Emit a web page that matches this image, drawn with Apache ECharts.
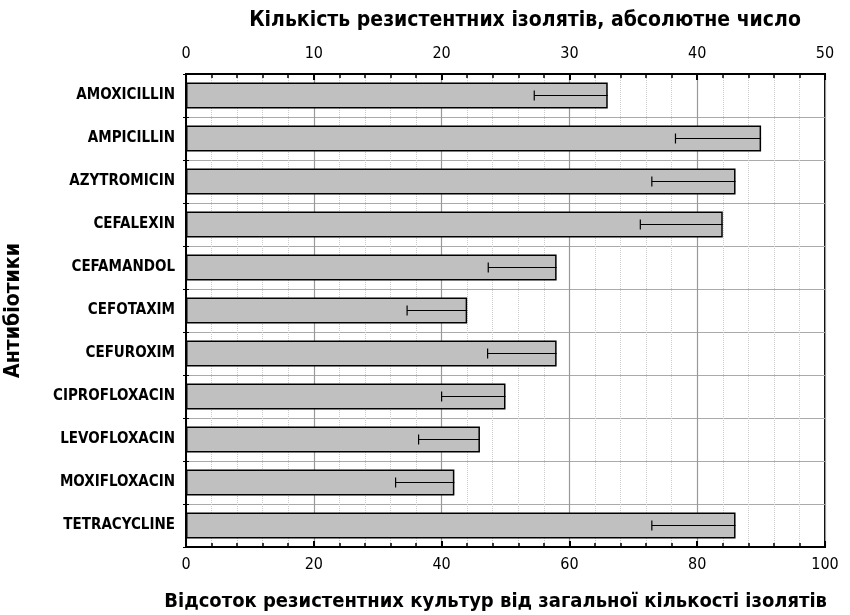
<!DOCTYPE html>
<html>
<head>
<meta charset="utf-8">
<script src="https://cdn.jsdelivr.net/npm/echarts@6/dist/echarts.min.js"></script>
<style>
  html, body { margin: 0; padding: 0; background: #fff; }
  #chart { width: 850px; height: 615px; }
</style>
</head>
<body>
<div id="chart"></div>
<script>
// antibiotics, percent resistant, lower error bound (percent)
const antibiotics = [
  "AMOXICILLIN", "AMPICILLIN", "AZYTROMICIN", "CEFALEXIN", "CEFAMANDOL",
  "CEFOTAXIM", "CEFUROXIM", "CIPROFLOXACIN", "LEVOFLOXACIN", "MOXIFLOXACIN",
  "TETRACYCLINE"
];
const percentResistant = [66, 90, 86, 84, 58, 44, 58, 50, 46, 42, 86];
const lowerBound = [54.5, 76.6, 72.9, 71.1, 47.3, 34.6, 47.2, 40.0, 36.4, 32.8, 72.9];

const FONT = "'Liberation Sans Narrow', 'DejaVu Sans Condensed', 'Liberation Sans', sans-serif";

const errData = antibiotics.map((name, i) => [i, lowerBound[i], percentResistant[i]]);

const chart = echarts.init(document.getElementById("chart"));

const option = {
  animation: false,
  textStyle: { fontFamily: FONT },
  grid: {
    left: 186, right: 25, top: 74, bottom: 68,
    outerBoundsMode: "none",
    containLabel: false,
    show: true, borderColor: "#000", borderWidth: 2,
  },
  title: [
    {
      text: "Кількість резистентних ізолятів, абсолютне число",
      left: 520, top: 5, textAlign: "center",
      textStyle: { fontFamily: FONT, fontSize: 21, fontWeight: "bold", color: "#000" },
    },
    {
      text: "Відсоток резистентних культур від загальної кількості ізолятів",
      right: 18, top: 587,
      textStyle: { fontFamily: FONT, fontSize: 20, fontWeight: "bold", color: "#000" },
    },
  ],
  xAxis: [
    {
      type: "value", position: "bottom", min: 0, max: 100, interval: 20,
      axisLine: { show: true, lineStyle: { color: "#000", width: 2 } },
      axisTick: { show: true, inside: true, length: 6, lineStyle: { color: "#000", width: 2 } },
      minorTick: { show: true, splitNumber: 5, length: 4, lineStyle: { color: "#000", width: 1.5 } },
      axisLabel: { fontFamily: FONT, fontSize: 16, color: "#000", margin: 10 },
      splitLine: { show: true, lineStyle: { color: "#999", width: 1.2 } },
      minorSplitLine: { show: true, lineStyle: { color: "#ccc", type: "dotted", width: 1 } },
    },
    {
      type: "value", position: "top", min: 0, max: 50, interval: 10,
      axisLine: { show: true, lineStyle: { color: "#000", width: 2 } },
      axisTick: { show: true, inside: true, length: 6, lineStyle: { color: "#000", width: 2 } },
      minorTick: { show: true, splitNumber: 5, length: 4, lineStyle: { color: "#000", width: 1.5 } },
      axisLabel: { fontFamily: FONT, fontSize: 16, color: "#000", margin: 12 },
      splitLine: { show: false },
    },
  ],
  yAxis: [
    {
      type: "category", data: antibiotics, inverse: true,
      name: "Антибіотики", nameLocation: "middle", nameGap: 162,
      nameTextStyle: { fontFamily: FONT, fontSize: 21, fontWeight: "bold", color: "#000" },
      axisLine: { show: true, lineStyle: { color: "#000", width: 2 } },
      axisTick: { show: true, inside: true, length: 3, lineStyle: { color: "#000" } },
      axisLabel: { fontFamily: FONT, fontSize: 15, fontWeight: "bold", color: "#000", margin: 11 },
      splitLine: { show: true, lineStyle: { color: "#aaa", width: 1.2 } },
    },
    {
      type: "category", data: antibiotics, inverse: true, position: "right",
      axisLine: { show: true, lineStyle: { color: "#000", width: 2 } },
      axisTick: { show: true, inside: true, length: 3, lineStyle: { color: "#000" } },
      axisLabel: { show: false },
      splitLine: { show: false },
    },
  ],
  series: [
    {
      name: "Percent",
      type: "bar",
      xAxisIndex: 0, yAxisIndex: 0,
      data: percentResistant,
      barCategoryGap: "40%",
      itemStyle: { color: "#c0c0c0", borderColor: "#000", borderWidth: 1.5 },
      z: 2,
    },
    {
      name: "Error",
      type: "custom",
      xAxisIndex: 0, yAxisIndex: 0,
      data: errData,
      encode: { y: 0, x: [1, 2] },
      renderItem: function (params, api) {
        const idx = api.value(0);
        const lo = api.coord([api.value(1), idx]);
        const hi = api.coord([api.value(2), idx]);
        const cap = 5;
        return {
          type: "group",
          children: [
            {
              type: "line",
              shape: { x1: lo[0], y1: lo[1], x2: hi[0], y2: hi[1] },
              style: { stroke: "#000", lineWidth: 1.2 },
            },
            {
              type: "line",
              shape: { x1: lo[0], y1: lo[1] - cap, x2: lo[0], y2: lo[1] + cap },
              style: { stroke: "#000", lineWidth: 1.2 },
            },
          ],
        };
      },
      z: 3,
    },
  ],
};

chart.setOption(option);
</script>
</body>
</html>
